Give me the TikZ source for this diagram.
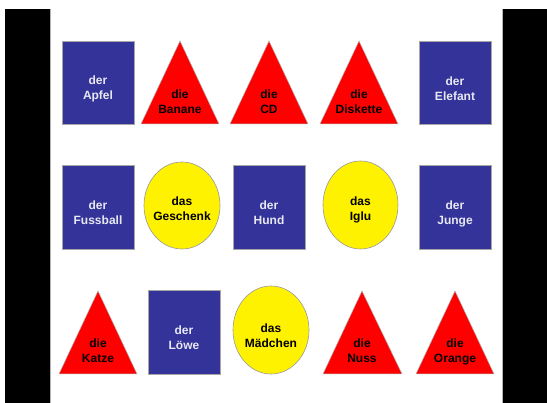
\documentclass[tikz,border=0pt]{standalone}
\usepackage{fontspec}
\setmainfont{Liberation Sans}
\begin{document}
\begin{tikzpicture}[x=1pt,y=-1pt,
  sq/.style={fill=sqblue,draw=gray!70,line width=0.6pt},
  tri/.style={fill=red,draw=gray!60,line width=0.5pt},
  ell/.style={fill=yellow,draw=gray!80,line width=0.6pt},
  bar/.style={fill=black,draw=none},
  lbl/.style={anchor=north,inner sep=0pt,align=center,font=\fontsize{12}{15}\selectfont\bfseries},
  wl/.style={lbl,text=sqtext},
  bl/.style={lbl,text=black}]
\definecolor{sqblue}{HTML}{333399}
\definecolor{sqtext}{HTML}{E8E8F2}
\useasboundingbox (0,0) rectangle (547,403);
\fill[white] (0,0) rectangle (547,403);
% side bars
\path[bar] (5,9) rectangle (50,403);
\path[bar] (503,9) rectangle (547,403);
\draw[gray!60,line width=0.5pt] (50.3,9) -- (50.3,403);
\draw[gray!60,line width=0.5pt] (502.7,9) -- (502.7,403);
% row 1
\path[sq] (62,41) rectangle (134,124);
\node[wl] (apfel) at (98,76) {der\\Apfel};
\path[tri] (180,41) -- (219,124) -- (141,124) -- cycle;
\node[bl] (banane) at (180,90) {die\\Banane};
\path[tri] (269,41) -- (308,124) -- (230,124) -- cycle;
\node[bl] (cd) at (269,90) {die\\CD};
\path[tri] (359,41) -- (398,124) -- (320,124) -- cycle;
\node[bl] (diskette) at (359,90) {die\\Diskette};
\path[sq] (419,41) rectangle (491,124);
\node[wl] (elefant) at (455,77) {der\\Elefant};
% row 2
\path[sq] (62,165) rectangle (134,249);
\node[wl] (fussball) at (98,201) {der\\Fussball};
\path[ell] (182,205.5) ellipse [x radius=38,y radius=43.5];
\node[bl] (geschenk) at (182,197) {das\\Geschenk};
\path[sq] (233,165) rectangle (305,249);
\node[wl] (hund) at (269,201) {der\\Hund};
\path[ell] (360.5,205) ellipse [x radius=37.5,y radius=44];
\node[bl] (iglu) at (360.5,197) {das\\Iglu};
\path[sq] (419,165) rectangle (491,249);
\node[wl] (junge) at (455,201) {der\\Junge};
% row 3
\path[tri] (98,291) -- (137,374) -- (59,374) -- cycle;
\node[bl] (katze) at (98,339) {die\\Katze};
\path[sq] (148,290) rectangle (220,374);
\node[wl] (loewe) at (184,326) {der\\Löwe};
\path[ell] (271,330) ellipse [x radius=38,y radius=44];
\node[bl] (maedchen) at (271,324) {das\\Mädchen};
\path[tri] (362,291) -- (402,374) -- (323,374) -- cycle;
\node[bl] (nuss) at (362,339) {die\\Nuss};
\path[tri] (455,291) -- (494,374) -- (416,374) -- cycle;
\node[bl] (orange) at (455,339) {die\\Orange};
\end{tikzpicture}
\end{document}
